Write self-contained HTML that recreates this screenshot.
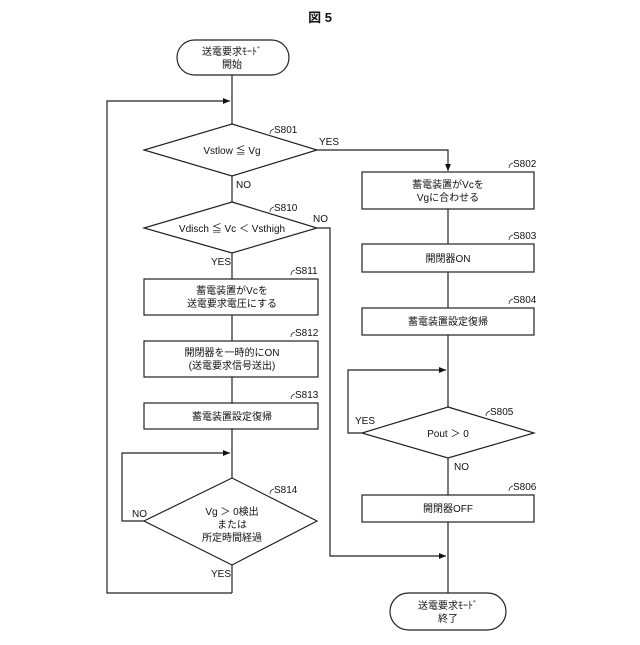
<!DOCTYPE html>
<html><head><meta charset="utf-8"><style>
html,body{margin:0;padding:0;background:#fff}
svg text{font-family:"Liberation Sans","Noto Sans CJK JP",sans-serif;font-size:10px;fill:#111}
</style></head><body>
<svg width="640" height="640" viewBox="0 0 640 640" xmlns="http://www.w3.org/2000/svg">
<defs><marker id="a" markerWidth="8" markerHeight="8" refX="7" refY="4" orient="auto" markerUnits="userSpaceOnUse"><path d="M0,1 L7,4 L0,7 Z" fill="#111"/></marker></defs>
<g stroke="#222" stroke-width="1.2" fill="none">
<text x="320" y="22" text-anchor="middle" style="font-size:13px;font-weight:bold" stroke="none">図 5</text>
<rect x="177" y="40" width="112" height="35" rx="17.5" fill="#fff"/>
<line x1="232" y1="75" x2="232" y2="124"/>
<polyline points="232,593 107,593 107,101 230,101" marker-end="url(#a)"/>
<polygon points="232,124 317,150 232,176 144,150" fill="#fff"/>
<line x1="232" y1="176" x2="232" y2="202"/>
<polyline points="317,150 448,150 448,171" marker-end="url(#a)"/>
<polygon points="232,202 317,228 232,253 144,228" fill="#fff"/>
<polyline points="317,228 330,228 330,556 446,556" marker-end="url(#a)"/>
<line x1="232" y1="253" x2="232" y2="279"/>
<rect x="144" y="279" width="174" height="36" fill="#fff"/>
<line x1="232" y1="315" x2="232" y2="341"/>
<rect x="144" y="341" width="174" height="36" fill="#fff"/>
<line x1="232" y1="377" x2="232" y2="403"/>
<rect x="144" y="403" width="174" height="26" fill="#fff"/>
<line x1="232" y1="429" x2="232" y2="478"/>
<polyline points="144,521 122,521 122,453 230,453" marker-end="url(#a)"/>
<polygon points="232,478 317,521 232,565 144,521" fill="#fff"/>
<line x1="232" y1="565" x2="232" y2="593"/>
<rect x="362" y="172" width="172" height="37" fill="#fff"/>
<line x1="448" y1="209" x2="448" y2="244"/>
<rect x="362" y="244" width="172" height="28" fill="#fff"/>
<line x1="448" y1="272" x2="448" y2="308"/>
<rect x="362" y="308" width="172" height="27" fill="#fff"/>
<line x1="448" y1="335" x2="448" y2="407"/>
<polyline points="362,433 348,433 348,370 446,370" marker-end="url(#a)"/>
<polygon points="448,407 534,433 448,458 362,433" fill="#fff"/>
<line x1="448" y1="458" x2="448" y2="495"/>
<rect x="362" y="495" width="172" height="27" fill="#fff"/>
<line x1="448" y1="522" x2="448" y2="593"/>
<rect x="390" y="593" width="116" height="37" rx="18.5" fill="#fff"/>
<g stroke-width="0.8">
<path d="M270,134 q0,-4 4,-5"/><path d="M270,212 q0,-4 4,-5"/><path d="M291,275 q0,-4 4,-5"/><path d="M291,337 q0,-4 4,-5"/><path d="M291,399 q0,-4 4,-5"/><path d="M270,494 q0,-4 4,-5"/>
<path d="M509,168 q0,-4 4,-5"/><path d="M509,240 q0,-4 4,-5"/><path d="M509,304 q0,-4 4,-5"/><path d="M486,416 q0,-4 4,-5"/><path d="M509,491 q0,-4 4,-5"/>
</g>
</g>
<text x="232" y="55" text-anchor="middle">送電要求ﾓｰﾄﾞ</text><text x="232" y="68" text-anchor="middle">開始</text>
<text x="232" y="154" text-anchor="middle">Vstlow ≦ Vg</text>
<text x="232" y="232" text-anchor="middle">Vdisch ≦ Vc ＜ Vsthigh</text>
<text x="232" y="294" text-anchor="middle">蓄電装置がVcを</text><text x="232" y="307" text-anchor="middle">送電要求電圧にする</text>
<text x="232" y="356" text-anchor="middle">開閉器を一時的にON</text><text x="232" y="369" text-anchor="middle">(送電要求信号送出)</text>
<text x="232" y="420" text-anchor="middle">蓄電装置設定復帰</text>
<text x="232" y="515" text-anchor="middle">Vg ＞ 0検出</text><text x="232" y="528" text-anchor="middle">または</text><text x="232" y="541" text-anchor="middle">所定時間経過</text>
<text x="448" y="188" text-anchor="middle">蓄電装置がVcを</text><text x="448" y="201" text-anchor="middle">Vgに合わせる</text>
<text x="448" y="262" text-anchor="middle">開閉器ON</text>
<text x="448" y="325" text-anchor="middle">蓄電装置設定復帰</text>
<text x="448" y="437" text-anchor="middle">Pout ＞ 0</text>
<text x="448" y="512" text-anchor="middle">開閉器OFF</text>
<text x="448" y="609" text-anchor="middle">送電要求ﾓｰﾄﾞ</text><text x="448" y="622" text-anchor="middle">終了</text>
<text x="274" y="133">S801</text><text x="274" y="211">S810</text><text x="295" y="274">S811</text><text x="295" y="336">S812</text><text x="295" y="398">S813</text><text x="274" y="493">S814</text>
<text x="513" y="167">S802</text><text x="513" y="239">S803</text><text x="513" y="303">S804</text><text x="490" y="415">S805</text><text x="513" y="490">S806</text>
<text x="319" y="145">YES</text><text x="236" y="188">NO</text><text x="313" y="222">NO</text><text x="211" y="265">YES</text>
<text x="132" y="517">NO</text><text x="211" y="577">YES</text><text x="355" y="424">YES</text><text x="454" y="470">NO</text>
</svg>
</body></html>
